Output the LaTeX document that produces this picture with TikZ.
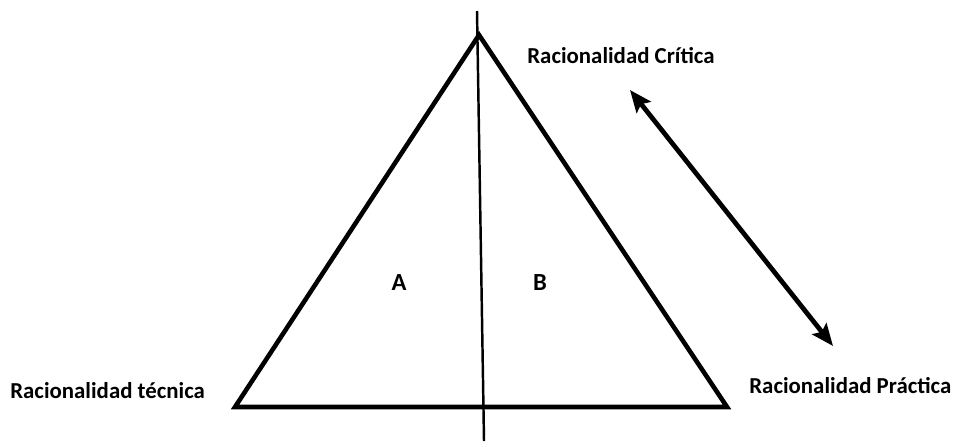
\documentclass[tikz,border=0pt]{standalone}
\usepackage{fontspec}
\setmainfont{Carlito}
\usetikzlibrary{positioning, arrows.meta}
\tikzset{
  ratlabel/.style={font=\fontsize{13}{15}\selectfont\bfseries, inner sep=0pt},
  zonelabel/.style={font=\fontsize{14}{16}\selectfont\bfseries, inner sep=0pt},
  triedge/.style={line width=2.6pt, line join=miter},
  axisline/.style={line width=1.4pt},
  flow/.style={{Stealth[length=4.4mm,width=3.6mm,inset=0.8mm]}-{Stealth[length=4.4mm,width=3.6mm,inset=0.8mm]}, line width=2.7pt},
}

\begin{document}
\begin{tikzpicture}[x=0.02cm, y=-0.02cm]
  \useasboundingbox (0,0) rectangle (955,446);

  \coordinate (apex) at (479,35);
  \coordinate (bl) at (235,407);
  \coordinate (br) at (727,407);
  \draw[triedge] (bl) -- (apex) -- (br) -- cycle;

  \coordinate (axtop) at (477,11);
  \coordinate (axbot) at (484,441);
  \draw[axisline] (axtop) -- (axbot);

  \coordinate (up) at (630,90);
  \coordinate (down) at (833,346);
  \draw[flow] (up) -- (down);

  \node[ratlabel, anchor=west] (critica) at (527,56) {Racionalidad Crítica};
  \node[ratlabel, anchor=west] (tecnica) at (10,391) {Racionalidad técnica};
  \node[ratlabel, anchor=west] (practica) at (749,386) {Racionalidad Práctica};

  \node[zonelabel] (za) at (399,283) {A};
  \node[zonelabel] (zb) at (540,283) {B};
\end{tikzpicture}
\end{document}
